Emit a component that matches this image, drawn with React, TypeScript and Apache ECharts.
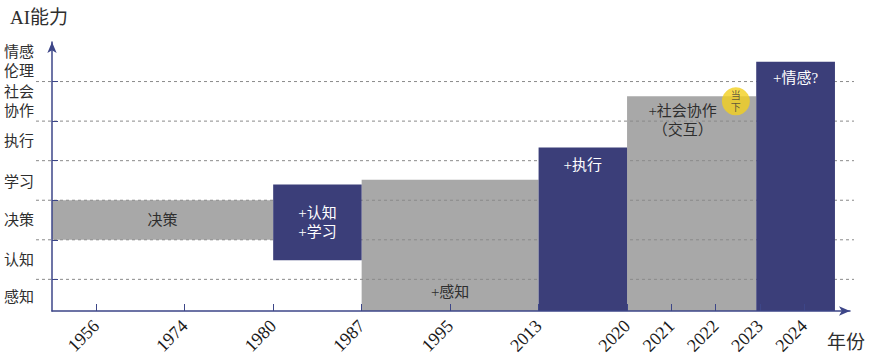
import React, { useEffect, useRef } from 'react';
import * as echarts from 'echarts';

// X axis: year ticks and their positions on the (non-linear) timeline scale
const yearTicks = ['1956', '1974', '1980', '1987', '1995', '2013', '2020', '2021', '2022', '2023', '2024'];
const yearPositions = [1, 2, 3, 4, 5, 6, 7, 7.5, 8, 8.5, 9];

// Y axis: ability levels
const abilityLevels = ['感知', '认知', '决策', '学习', '执行', '社会\n协作', '情感\n伦理'];
const abilityLevelCenters = [0.55, 1.5, 2.5, 3.45, 4.5, 5.5, 6.5];
const gridLevels = [1, 2, 3, 4, 5, 6];

// Stages (blocks)
const stageLabels = ['决策', '+认知\n+学习', '+感知', '+执行', '+社会协作\n（交互）', '+情感?'];
const stageXStart = [0.5, 3, 4, 6, 7, 8.46];
const stageXEnd = [3, 4, 6, 7, 8.46, 9.35];
const stageYBottom = [2, 1.48, 0.2, 0.2, 0.2, 0.2];
const stageYTop = [3, 3.4, 3.52, 4.33, 5.63, 6.5];
const stageKind = ['gray', 'navy', 'gray', 'navy', 'gray', 'navy'];

// "Now" marker
const nowMarker = [[8.23, 5.5]];
const nowLabel = '当\n下';

const X_MIN = 0.5;
const X_MAX = 9.52;
const Y_MIN = 0.2;
const Y_MAX = 7;

const NAVY = '#3b3e79';
const GRAY = '#a8a8a8';
const AXIS = '#3d4688';
const FONT = '"Liberation Serif", "Noto Sans CJK SC", serif';

const labelLayout: any[] = [
  { position: 'inside' },
  { position: 'inside' },
  { position: 'insideBottom', distance: 10 },
  { position: 'insideTop', distance: 8 },
  { position: 'insideTop', distance: 5, offset: [-9, 0] },
  { position: 'insideTop', distance: 7 },
];

function stageData(kind: string) {
  const out: number[][] = [];
  stageKind.forEach((k, i) => {
    if (k === kind) out.push([stageXStart[i], stageXEnd[i], stageYBottom[i], stageYTop[i], i]);
  });
  return out;
}

function renderStage(params: any, api: any) {
  const x0 = api.value(0);
  const x1 = api.value(1);
  const y0 = api.value(2);
  const y1 = api.value(3);
  const idx = api.value(4);
  const pA = api.coord([x0, y1]);
  const pB = api.coord([x1, y0]);
  const isNavy = stageKind[idx] === 'navy';
  const lay = labelLayout[idx];
  return {
    type: 'rect',
    shape: { x: pA[0], y: pA[1], width: pB[0] - pA[0], height: pB[1] - pA[1] },
    style: { fill: isNavy ? NAVY : GRAY },
    textContent: {
      style: {
        text: stageLabels[idx],
        fill: isNavy ? '#ffffff' : '#2e2e2e',
        fontSize: 15,
        fontFamily: FONT,
        lineHeight: 19,
        align: 'center',
      },
    },
    textConfig: { position: lay.position, distance: lay.distance || 0, offset: lay.offset || [0, 0] },
  };
}

export default function App() {
  const ref = useRef<HTMLDivElement>(null);
  useEffect(() => {
    document.body.style.margin = '0';
    const chart = echarts.init(ref.current!, null, { renderer: 'svg' });
    chart.setOption({
      animation: false,
      title: {
        text: 'AI能力',
        left: 5,
        top: 3,
        textStyle: { fontSize: 19, fontWeight: 'normal', fontFamily: FONT, color: '#2e2e2e' },
      },
      graphic: [
        {
          type: 'text',
          right: 12,
          top: 333,
          style: { text: '年份', fontSize: 19, fontFamily: FONT, fill: '#2e2e2e' },
        },
      ],
      grid: { left: 52, right: 27, top: 42, bottom: 52 },
      xAxis: {
        type: 'value',
        min: X_MIN,
        max: X_MAX,
        z: 10,
        splitLine: { show: false },
        axisLine: {
          show: true,
          onZero: false,
          lineStyle: { color: AXIS, width: 1.5 },
          symbol: ['none', 'arrow'],
          symbolSize: [7, 11],
        },
        axisTick: {
          show: true,
          inside: true,
          length: 7,
          customValues: yearPositions,
          lineStyle: { color: AXIS, width: 1 },
        },
        axisLabel: {
          customValues: yearPositions,
          rotate: 45,
          margin: 12,
          fontSize: 18,
          fontFamily: FONT,
          color: '#1a1a1a',
          formatter: (v: number) => {
            const i = yearPositions.indexOf(v);
            return i >= 0 ? yearTicks[i] : '';
          },
        },
      },
      yAxis: {
        type: 'value',
        min: Y_MIN,
        max: Y_MAX,
        z: 10,
        splitLine: { show: false },
        axisLine: {
          show: true,
          onZero: false,
          lineStyle: { color: AXIS, width: 1.5 },
          symbol: ['none', 'arrow'],
          symbolSize: [7, 11],
        },
        axisTick: {
          show: true,
          inside: true,
          length: 6,
          customValues: gridLevels,
          lineStyle: { color: AXIS, width: 1 },
        },
        axisLabel: {
          customValues: abilityLevelCenters,
          align: 'left',
          margin: 48,
          fontSize: 15,
          lineHeight: 19,
          fontFamily: FONT,
          color: '#2e2e2e',
          formatter: (v: number) => {
            const i = abilityLevelCenters.indexOf(v);
            return i >= 0 ? abilityLevels[i] : '';
          },
        },
      },
      series: [
        {
          type: 'custom',
          name: 'gray',
          z: 2,
          renderItem: renderStage,
          encode: { x: [0, 1], y: [2, 3] },
          data: stageData('gray'),
        },
        {
          type: 'custom',
          name: 'grid',
          z: 3,
          clip: false,
          silent: true,
          renderItem: (params: any, api: any) => {
            const p = api.coord([X_MIN, api.value(1)]);
            const cs = params.coordSys;
            return {
              type: 'line',
              shape: { x1: p[0] - 16, y1: p[1], x2: cs.x + cs.width + 4, y2: p[1] },
              style: { stroke: '#8a8a8a', lineDash: [3, 3], lineWidth: 1 },
            };
          },
          encode: { x: 0, y: 1 },
          data: gridLevels.map((l) => [X_MIN, l]),
        },
        {
          type: 'custom',
          name: 'navy',
          z: 4,
          renderItem: renderStage,
          encode: { x: [0, 1], y: [2, 3] },
          data: stageData('navy'),
        },
        {
          type: 'scatter',
          name: 'now',
          z: 5,
          symbolSize: 28,
          itemStyle: { color: '#f2cf1e' },
          label: {
            show: true,
            position: 'inside',
            formatter: nowLabel,
            fontSize: 10,
            lineHeight: 12,
            fontFamily: FONT,
            color: '#3a3a3a',
          },
          data: nowMarker,
        },
      ],
    });
    return () => chart.dispose();
  }, []);
  return <div ref={ref} style={{ width: 877, height: 363 }} />;
}
